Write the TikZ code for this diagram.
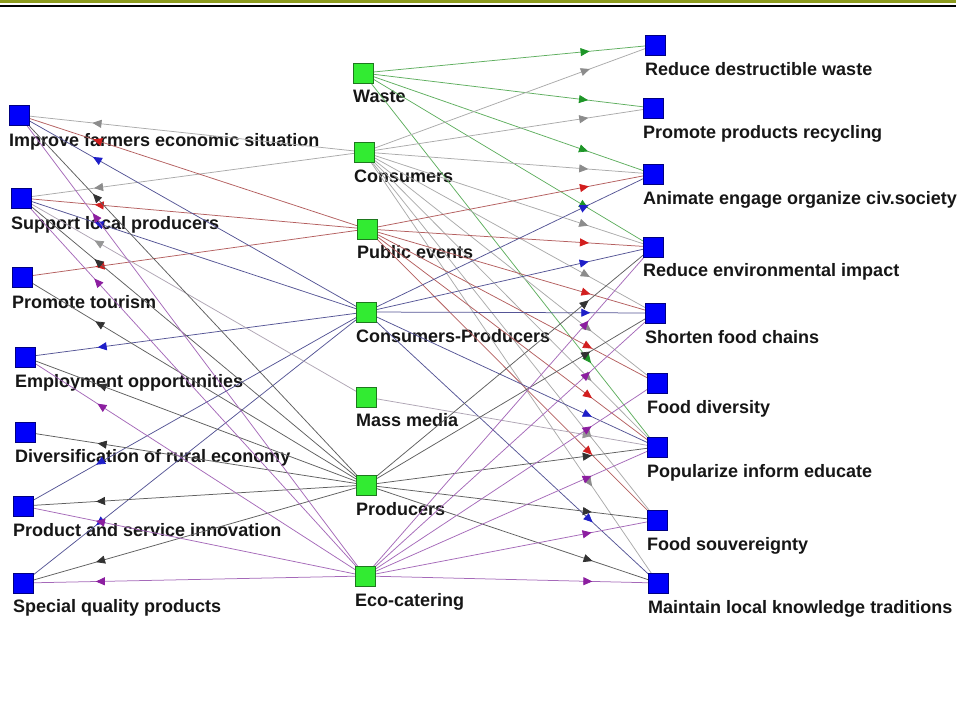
\documentclass[tikz,border=0pt]{standalone}
\usepackage{fontspec}
\setmainfont{Liberation Sans}
\usetikzlibrary{arrows.meta,decorations.markings}
\pgfdeclarelayer{fg}
\pgfsetlayers{main,fg}
\definecolor{olivebar}{RGB}{140,155,30}
\definecolor{bfill}{RGB}{0,0,250}
\definecolor{bdraw}{RGB}{0,0,130}
\definecolor{gfill}{RGB}{50,235,50}
\definecolor{gdraw}{RGB}{30,120,30}
\definecolor{txt}{RGB}{22,22,22}
\definecolor{wl}{RGB}{95,175,95}\definecolor{wa}{RGB}{30,150,40}
\definecolor{cl}{RGB}{170,170,170}\definecolor{ca}{RGB}{140,140,140}
\definecolor{pl}{RGB}{180,95,95}\definecolor{pa}{RGB}{210,30,30}
\definecolor{ql}{RGB}{85,85,150}\definecolor{qa}{RGB}{30,30,200}
\definecolor{ml}{RGB}{175,165,180}\definecolor{ma}{RGB}{150,150,150}
\definecolor{dl}{RGB}{95,95,95}\definecolor{da}{RGB}{50,50,50}
\definecolor{el}{RGB}{165,105,185}\definecolor{ea}{RGB}{140,30,160}
\tikzset{
  bsq/.style={draw=bdraw, fill=bfill, line width=0.6pt, minimum size=20pt, inner sep=0pt, outer sep=0pt},
  gsq/.style={draw=gdraw, fill=gfill, line width=0.6pt, minimum size=20pt, inner sep=0pt, outer sep=0pt},
  lab/.style={anchor=base west, inner sep=0pt, text=txt, font=\bfseries\fontsize{18}{18}\selectfont},
  edge/.style n args={3}{draw=#1, line width=0.75pt,
    decoration={markings, mark=at position #3 with {\arrow{Triangle[length=9pt,width=8pt,color=#2]}}},
    postaction={decorate}},
  Wr/.style={edge={wl}{wa}{0.776}},
  Cr/.style={edge={cl}{ca}{0.776}}, Cl/.style={edge={cl}{ca}{0.787}},
  Pr/.style={edge={pl}{pa}{0.776}}, Pl/.style={edge={pl}{pa}{0.787}},
  Qr/.style={edge={ql}{qa}{0.776}}, Ql/.style={edge={ql}{qa}{0.787}},
  Mr/.style={edge={ml}{ma}{0.776}}, Ml/.style={edge={ml}{ma}{0.787}},
  Dr/.style={edge={dl}{da}{0.776}}, Dl/.style={edge={dl}{da}{0.787}},
  Er/.style={edge={el}{ea}{0.776}}, El/.style={edge={el}{ea}{0.787}}
}
\begin{document}
\begin{tikzpicture}[x=1pt,y=-1pt]
\useasboundingbox (0,0) rectangle (964,720);
\fill[white] (0,0) rectangle (964,720);
\fill[olivebar] (0,0) rectangle (956,2.6);
\fill[black] (0,4.8) rectangle (956,7.4);

\begin{pgfonlayer}{fg}
% left column
\node[bsq] (L1) at (19,115) {};
\node[bsq] (L2) at (21,198) {};
\node[bsq] (L3) at (22,277) {};
\node[bsq] (L4) at (25,357) {};
\node[bsq] (L5) at (25,432) {};
\node[bsq] (L6) at (23,506) {};
\node[bsq] (L7) at (23,583) {};
% middle column
\node[gsq] (W) at (363,73) {};
\node[gsq] (C) at (364,152) {};
\node[gsq] (PE) at (367,229) {};
\node[gsq] (CP) at (366,312) {};
\node[gsq] (MM) at (366,397) {};
\node[gsq] (P) at (366,485) {};
\node[gsq] (E) at (365,576) {};
% right column
\node[bsq] (R1) at (655,45) {};
\node[bsq] (R2) at (653,108) {};
\node[bsq] (R3) at (653,174) {};
\node[bsq] (R4) at (653,247) {};
\node[bsq] (R5) at (655,313) {};
\node[bsq] (R6) at (657,383) {};
\node[bsq] (R7) at (657,447) {};
\node[bsq] (R8) at (657,520) {};
\node[bsq] (R9) at (658,583) {};
\end{pgfonlayer}

% labels
\node[lab] (tL1) at (9,146) {Improve farmers economic situation};
\node[lab] (tL2) at (11,229) {Support local producers};
\node[lab] (tL3) at (12,308) {Promote tourism};
\node[lab] (tL4) at (15,387) {Employment opportunities};
\node[lab] (tL5) at (15,462) {Diversification of rural economy};
\node[lab] (tL6) at (13,536) {Product and service innovation};
\node[lab] (tL7) at (13,612) {Special quality products};
\node[lab] (tW) at (353,102) {Waste};
\node[lab] (tC) at (354,182) {Consumers};
\node[lab] (tPE) at (357,258) {Public events};
\node[lab] (tCP) at (356,342) {Consumers-Producers};
\node[lab] (tMM) at (356,426) {Mass media};
\node[lab] (tP) at (356,515) {Producers};
\node[lab] (tE) at (355,606) {Eco-catering};
\node[lab] (tR1) at (645,75) {Reduce destructible waste};
\node[lab] (tR2) at (643,138) {Promote products recycling};
\node[lab] (tR3) at (643,204) {Animate engage organize civ.society};
\node[lab] (tR4) at (643,276) {Reduce environmental impact};
\node[lab] (tR5) at (645,343) {Shorten food chains};
\node[lab] (tR6) at (647,413) {Food diversity};
\node[lab] (tR7) at (647,477) {Popularize inform educate};
\node[lab] (tR8) at (647,550) {Food souvereignty};
\node[lab] (tR9) at (648,613) {Maintain local knowledge traditions};

% edges to the left
\foreach \t in {L1,L2} \draw[Cl] (C.center) -- (\t.center);
\foreach \t in {L1,L2,L3} \draw[Pl] (PE.center) -- (\t.center);
\foreach \t in {L1,L2,L4,L6,L7} \draw[Ql] (CP.center) -- (\t.center);
\foreach \t in {L2} \draw[Ml] (MM.center) -- (\t.center);
\foreach \t in {L1,L2,L3,L4,L5,L6,L7} \draw[Dl] (P.center) -- (\t.center);
\foreach \t in {L1,L2,L4,L6,L7} \draw[El] (E.center) -- (\t.center);

% edges to the right
\foreach \t in {R1,R2,R3,R4,R7} \draw[Wr] (W.center) -- (\t.center);
\foreach \t in {R1,R2,R3,R4,R5,R6,R7,R8,R9} \draw[Cr] (C.center) -- (\t.center);
\foreach \t in {R3,R4,R5,R6,R7,R8} \draw[Pr] (PE.center) -- (\t.center);
\foreach \t in {R3,R4,R5,R7,R9} \draw[Qr] (CP.center) -- (\t.center);
\foreach \t in {R7} \draw[Mr] (MM.center) -- (\t.center);
\foreach \t in {R4,R5,R7,R8,R9} \draw[Dr] (P.center) -- (\t.center);
\foreach \t in {R4,R5,R6,R7,R8,R9} \draw[Er] (E.center) -- (\t.center);
\end{tikzpicture}
\end{document}
